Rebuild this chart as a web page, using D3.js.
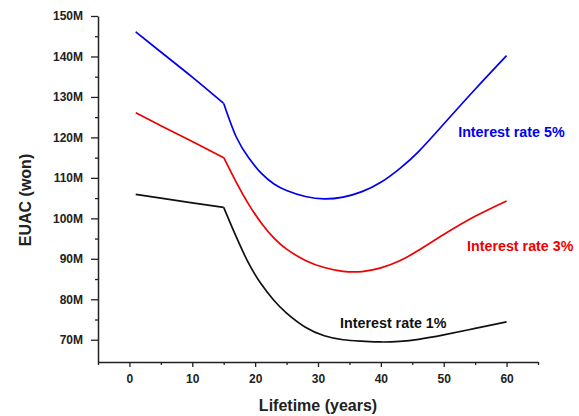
<!DOCTYPE html>
<html>
<head>
<meta charset="utf-8">
<script src="https://cdn.jsdelivr.net/npm/d3@7"></script>
<style>
  body { margin: 0; background: #fff; }
  text { font-family: Arial, "Liberation Sans", sans-serif; font-weight: bold; }
</style>
</head>
<body>
<script>
// lifetime in years, kink at 15 years
const years = [1, 5, 10, 15, 17, 19, 21, 23, 25, 28, 31, 34, 37, 40, 43, 46, 50, 55, 60]
const rate5 = [146.1, 141.1, 134.9, 128.4, 120.1, 114.9, 111.1, 108.5, 106.9, 105.4, 104.8, 105.25, 106.6, 108.9, 112.3, 116.5, 123.3, 131.9, 140.2]
const rate3 = [126.1, 122.9, 119.0, 115.0, 108.9, 103.4, 98.8, 95.1, 92.4, 89.6, 87.85, 86.9, 86.85, 87.75, 89.5, 92.1, 96.0, 100.5, 104.3]
const rate1 = [105.9, 105.0, 103.8, 102.7, 95.4, 88.8, 83.7, 79.7, 76.6, 73.1, 71.0, 70.0, 69.65, 69.45, 69.6, 70.1, 71.2, 72.8, 74.4]
const kinkYear = 15

const xTicks = [0, 10, 20, 30, 40, 50, 60]
const yTicks = [70, 80, 90, 100, 110, 120, 130, 140, 150]

const series = [
  { name: 'Interest rate 5%', values: rate5, color: '#0000ee', labelAt: [52.3, 120.2] },
  { name: 'Interest rate 3%', values: rate3, color: '#ee0000', labelAt: [53.7, 92.0] },
  { name: 'Interest rate 1%', values: rate1, color: '#111111', labelAt: [33.5, 72.8] }
]

const width = 579
const height = 416

const x = d3.scaleLinear().domain([-5, 65]).range([98, 538])
const y = d3.scaleLinear().domain([64.5, 150]).range([362, 16])

const svg = d3.select('body')
  .append('svg')
  .attr('width', width)
  .attr('height', height)

// minor ticks
svg.append('g')
  .attr('transform', `translate(0,${y.range()[0]})`)
  .call(d3.axisBottom(x).tickValues(d3.range(-5, 66, 10)).tickSize(3).tickFormat(''))
  .call(g => g.select('.domain').remove())
svg.append('g')
  .attr('transform', `translate(${x.range()[0]},0)`)
  .call(d3.axisLeft(y).tickValues(d3.range(75, 150, 10)).tickSize(3).tickFormat(''))
  .call(g => g.select('.domain').remove())

svg.append('g')
  .attr('transform', `translate(0,${y.range()[0]})`)
  .call(d3.axisBottom(x).tickValues(xTicks).tickSize(5).tickSizeOuter(0).tickPadding(7))

svg.append('g')
  .attr('transform', `translate(${x.range()[0]},0)`)
  .call(d3.axisLeft(y).tickValues(yTicks).tickSize(7).tickSizeOuter(0).tickPadding(8)
    .tickFormat(d => d + 'M'))

svg.selectAll('.tick line').attr('stroke', '#222').attr('stroke-width', 1.3)
svg.selectAll('.domain').attr('stroke', '#222').attr('stroke-width', 1.5)
svg.selectAll('.tick text').attr('font-size', 12).attr('fill', '#222')
  .style('font-family', 'Arial, "Liberation Sans", sans-serif').style('font-weight', 'bold')

// axis titles
svg.append('text')
  .attr('x', 318)
  .attr('y', 411)
  .attr('text-anchor', 'middle')
  .attr('font-size', 16)
  .attr('fill', '#222')
  .text('Lifetime (years)')

svg.append('text')
  .attr('transform', 'translate(31,200) rotate(-90)')
  .attr('text-anchor', 'middle')
  .attr('font-size', 16)
  .attr('fill', '#222')
  .text('EUAC (won)')

const line = d3.line()
  .x(d => x(d[0]))
  .y(d => y(d[1]))
  .curve(d3.curveNatural)

const k = years.indexOf(kinkYear)

series.forEach(s => {
  const pts = years.map((t, i) => [t, s.values[i]])
  // two pieces so the break at 15 years stays sharp
  ;[pts.slice(0, k + 1), pts.slice(k)].forEach(seg => {
    svg.append('path')
      .datum(seg)
      .attr('fill', 'none')
      .attr('stroke', s.color)
      .attr('stroke-width', 1.7)
      .attr('d', line)
  })
  svg.append('text')
    .attr('x', x(s.labelAt[0]))
    .attr('y', y(s.labelAt[1]))
    .attr('font-size', 14.3)
    .attr('fill', s.color)
    .text(s.name)
})
</script>
</body>
</html>
